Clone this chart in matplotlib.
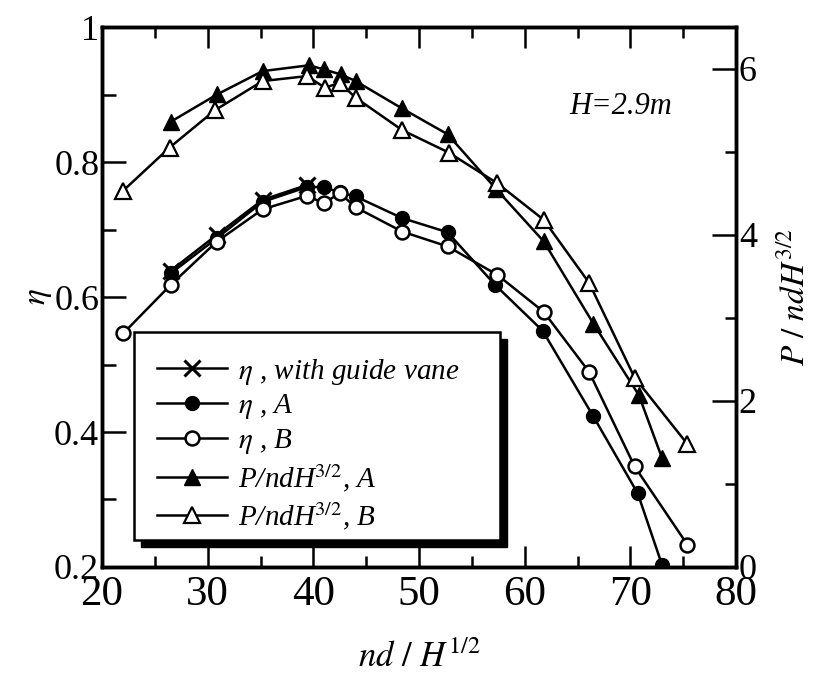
import matplotlib
matplotlib.use('Agg')
import matplotlib.pyplot as plt
from matplotlib.patches import Rectangle
from matplotlib.ticker import MultipleLocator, FixedLocator

plt.rcParams['font.family'] = ['Liberation Serif', 'DejaVu Serif']
plt.rcParams['mathtext.fontset'] = 'stix'

# efficiency with guide vane
x_gv = [26.5, 30.85, 35.2, 39.4]
eta_gv = [0.639, 0.692, 0.744, 0.766]

# efficiency, rotor A
x_a = [26.5, 30.85, 35.2, 39.4, 41.0, 42.5, 44.0, 48.4, 52.7, 57.2, 61.7, 66.5, 70.7, 73.0]
eta_a = [0.635, 0.687, 0.741, 0.763, 0.763, 0.755, 0.749, 0.717, 0.696, 0.618, 0.550, 0.423, 0.309, 0.203]

# efficiency, rotor B
x_b = [22.0, 26.5, 30.85, 35.2, 39.4, 41.0, 42.5, 44.0, 48.4, 52.7, 57.4, 61.8, 66.1, 70.4, 75.4]
eta_b = [0.546, 0.618, 0.682, 0.730, 0.750, 0.739, 0.754, 0.733, 0.697, 0.675, 0.633, 0.578, 0.489, 0.349, 0.233]

# power coefficient P/ndH^3/2
xp_a = [26.5, 30.9, 35.2, 39.6, 41.0, 42.6, 44.0, 48.4, 52.7, 57.3, 61.8, 66.5, 70.8, 73.0]
p_a = [5.36, 5.69, 5.97, 6.04, 5.99, 5.93, 5.85, 5.52, 5.21, 4.55, 3.92, 2.93, 2.07, 1.31]

xp_b = [22.0, 26.4, 30.7, 35.2, 39.4, 41.1, 42.5, 44.0, 48.4, 52.8, 57.4, 61.8, 66.1, 70.4, 75.4]
p_b = [4.53, 5.05, 5.50, 5.85, 5.91, 5.77, 5.83, 5.65, 5.26, 4.99, 4.62, 4.18, 3.42, 2.28, 1.48]

fig = plt.figure(figsize=(8.16, 6.77), dpi=100)
ax = fig.add_axes([0.125, 0.1625, 0.777, 0.7975])
ax2 = ax.twinx()

lw = 1.8
ms = 10
h1, = ax.plot(x_gv, eta_gv, color='black', lw=lw, marker='x', ms=12, mew=2.2,
              label=r'$\eta$ , with guide vane')
h2, = ax.plot(x_a, eta_a, color='black', lw=lw, marker='o', ms=ms, mfc='black',
              label=r'$\eta$ , A')
h3, = ax.plot(x_b, eta_b, color='black', lw=lw, marker='o', ms=ms, mfc='white', mew=1.8,
              label=r'$\eta$ , B')
h4, = ax2.plot(xp_a, p_a, color='black', lw=lw, marker='^', ms=12, mfc='black',
               label=r'P/ndH$^{3/2}$, A')
h5, = ax2.plot(xp_b, p_b, color='black', lw=lw, marker='^', ms=12, mfc='white', mew=1.6,
               label=r'P/ndH$^{3/2}$, B')

ax.set_xlim(20, 80)
ax.set_ylim(0.2, 1.0)
ax2.set_ylim(0, 6.5)

ax.xaxis.set_major_locator(MultipleLocator(10))
ax.xaxis.set_minor_locator(MultipleLocator(5))
ax.yaxis.set_major_locator(FixedLocator([0.2, 0.4, 0.6, 0.8, 1.0]))
ax.yaxis.set_minor_locator(MultipleLocator(0.1))
ax.set_yticklabels(['0.2', '0.4', '0.6', '0.8', '1'])
ax2.yaxis.set_major_locator(MultipleLocator(2))
ax2.yaxis.set_minor_locator(MultipleLocator(1))

ax.tick_params(axis='x', which='both', direction='in', top=True, labelsize=31, pad=6, width=1.8)
ax.tick_params(axis='x', which='major', length=15)
ax.tick_params(axis='x', which='minor', length=8)
ax.tick_params(axis='y', which='both', direction='in', labelsize=26, pad=2, width=1.8)
ax.tick_params(axis='y', which='major', length=17)
ax.tick_params(axis='y', which='minor', length=10)
ax2.tick_params(axis='y', which='both', direction='in', labelsize=26, pad=2, width=1.8)
ax2.tick_params(axis='y', which='major', length=17)
ax2.tick_params(axis='y', which='minor', length=8)

for a in (ax, ax2):
    for s in a.spines.values():
        s.set_linewidth(2.5)

ax.set_xlabel(r'$nd\ /\ H^{1/2}$', fontsize=25, labelpad=20)
ax.set_ylabel(r'$\eta$', fontsize=24, labelpad=0)
ax2.set_ylabel(r'$P\ /\ ndH^{3/2}$', fontsize=24, labelpad=16)

ax.text(69.1, 0.883, 'H=2.9m', fontsize=22, style='italic', ha='center', va='center')

# legend box with solid black shadow
W, H = 816.0, 677.0
x0, x1, y0, y1 = 134, 500, 332, 540
shadow = Rectangle(((x0 + 7) / W, 1 - (y1 + 7) / H), (x1 - x0) / W, (y1 - y0) / H,
                   transform=fig.transFigure, facecolor='black', edgecolor='black', zorder=3)
box = Rectangle((x0 / W, 1 - y1 / H), (x1 - x0) / W, (y1 - y0) / H,
                transform=fig.transFigure, facecolor='white', edgecolor='black', lw=1.8, zorder=4)
fig.add_artist(shadow)
fig.add_artist(box)

leg = fig.legend(handles=[h1, h2, h3, h4, h5], loc='upper left',
                 bbox_to_anchor=(142 / W, 1 - 342 / H), frameon=False,
                 prop={'size': 21, 'style': 'italic'},
                 handlelength=2.4, handletextpad=0.4, labelspacing=0.2, borderpad=0)
leg.set_zorder(5)

fig.savefig('out.png', dpi=100)
